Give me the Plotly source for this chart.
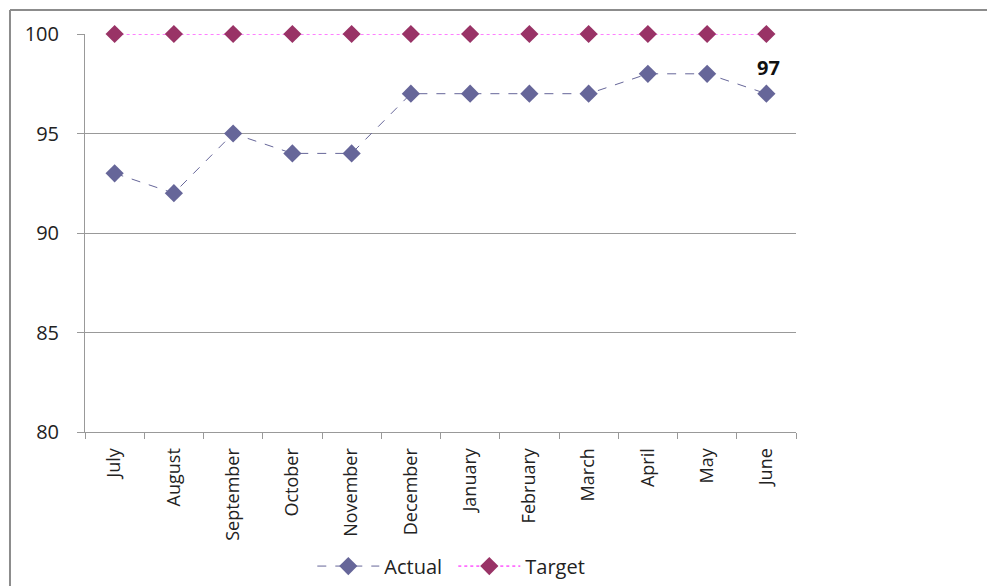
import plotly.graph_objects as go

# Monthly performance against target
months = ["July", "August", "September", "October", "November", "December",
          "January", "February", "March", "April", "May", "June"]
actual = [93, 92, 95, 94, 94, 97, 97, 97, 97, 98, 98, 97]
target = [100, 100, 100, 100, 100, 100, 100, 100, 100, 100, 100, 100]
y_ticks = [80, 85, 90, 95, 100]

fig = go.Figure()

fig.add_trace(go.Scatter(
    x=months, y=actual, name="Actual", mode="lines+markers",
    line=dict(color="#666699", width=1, dash="dash"),
    marker=dict(symbol="diamond", size=14, color="#666699"),
    cliponaxis=False,
))
fig.add_trace(go.Scatter(
    x=months, y=target, name="Target", mode="lines+markers",
    line=dict(color="#FF00FF", width=1, dash="dot"),
    marker=dict(symbol="diamond", size=14, color="#993366"),
    cliponaxis=False,
))

# value label on the last month
fig.add_annotation(
    x=months[-1], y=actual[-1], text=f"<b>{actual[-1]}</b>",
    showarrow=False, yshift=26, xshift=2,
    font=dict(size=20, color="#111111", family="Open Sans"),
)

# outer chart border (top and left edges)
fig.add_shape(type="line", xref="paper", yref="paper",
              x0=-0.1055, y0=-0.40, x1=-0.1055, y1=1.0603,
              line=dict(color="#8c8c8c", width=2))
fig.add_shape(type="line", xref="paper", yref="paper",
              x0=-0.1055, y0=1.0603, x1=1.30, y1=1.0603,
              line=dict(color="#8c8c8c", width=2))

fig.update_layout(
    width=987, height=586,
    margin=dict(l=85, r=191, t=34, b=154, autoexpand=False),
    paper_bgcolor="white", plot_bgcolor="white",
    font=dict(family="Open Sans", color="#222222"),
    showlegend=True,
    legend=dict(orientation="h", x=0.518, xanchor="center",
                y=0.034, yref="container", yanchor="middle",
                font=dict(size=20, color="#222222"), itemwidth=62,
                entrywidth=64, entrywidthmode="pixels",
                traceorder="normal"),
)

fig.update_xaxes(
    type="category", range=[-0.5, 11.5], automargin=False,
    showline=True, linecolor="#999999", linewidth=1,
    ticks="outside", tickson="boundaries", ticklen=6, tickcolor="#999999",
    tickangle=-90, tickfont=dict(size=18, color="#222222"), ticklabelstandoff=8,
    showgrid=False,
)
fig.update_yaxes(
    range=[80, 100], tickvals=y_ticks, automargin=False,
    showline=True, linecolor="#999999", linewidth=1,
    ticks="outside", ticklen=7, tickcolor="#999999",
    showgrid=True, gridcolor="#999999", gridwidth=1,
    tickfont=dict(size=20, color="#222222"), ticklabelstandoff=14,
    zeroline=False,
)

fig.write_html("out.html")
